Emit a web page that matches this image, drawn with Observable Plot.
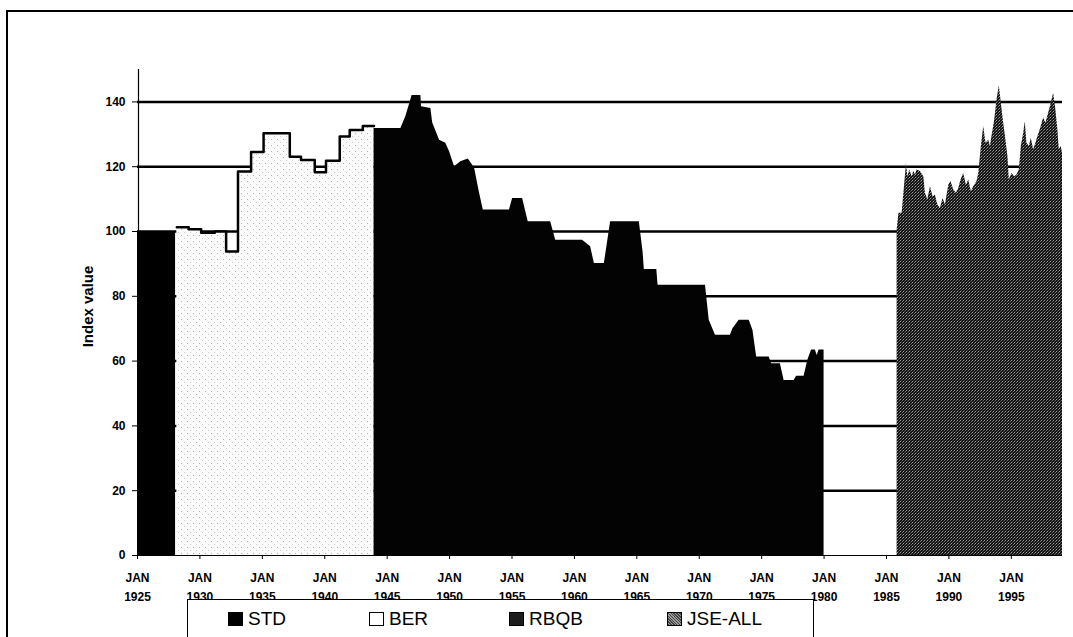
<!DOCTYPE html>
<html>
<head>
<meta charset="utf-8">
<script src="https://cdn.jsdelivr.net/npm/d3@7"></script>
<script src="https://cdn.jsdelivr.net/npm/@observablehq/plot@0.6"></script>
<style>
  html, body { margin: 0; padding: 0; background: #fff; overflow: hidden; }
  #wrap { position: relative; width: 1073px; height: 637px; overflow: hidden; background: #fff; font-family: "Liberation Sans", Arial, sans-serif; }
  #frame { position: absolute; left: 6px; top: 10px; width: 1100px; height: 700px; border-left: 2px solid #000; border-top: 2px solid #000; }
  #chart { position: absolute; left: 0; top: 0; }
  #legend { position: absolute; left: 187px; top: 599px; width: 625px; height: 60px; border: 1px solid #000; background: #fff; }
  .item { position: absolute; top: 9px; font-size: 19px; line-height: 20px; display: flex; align-items: center; }
  .sw { width: 15px; height: 14px; margin-right: 5px; box-sizing: border-box; }
</style>
</head>
<body>
<div id="wrap">
  <div id="frame"></div>
  <div id="chart"></div>
  <div id="legend">
    <div class="item" style="left:40px"><div class="sw" style="background:#000"></div>STD</div>
    <div class="item" style="left:181px"><div class="sw" style="background:#fff;border:1.5px solid #000"></div>BER</div>
    <div class="item" style="left:321px"><div class="sw" style="background:#1c1c1c;border:1px solid #000"></div>RBQB</div>
    <div class="item" style="left:479px"><div class="sw" style="background:repeating-linear-gradient(45deg,#444 0 1px,#999 1px 2px);border:1px solid #000"></div>JSE-ALL</div>
  </div>
</div>
<script>
// ---- data ----
const xTicks = [1925, 1930, 1935, 1940, 1945, 1950, 1955, 1960, 1965, 1970, 1975, 1980, 1985, 1990, 1995];
const yTicks = [0, 20, 40, 60, 80, 100, 120, 140];
const gridValues = [20, 40, 60, 80, 100, 120, 140];

const stdYears = [1925, 1928.05];
const stdValues = [100, 100];

const berYears = [1928.15, 1929.1, 1930.1, 1931.2, 1932.1, 1933.05, 1934.1, 1935.1, 1937.2, 1938.1, 1939.2, 1940.1, 1941.2, 1942.0, 1943.05, 1943.95];
const berValues = [101.3, 100.7, 99.6, 100, 93.8, 118.5, 124.5, 130.3, 123.1, 122.1, 118.3, 121.8, 129.3, 131.3, 132.6, 132.6];

const rbqbYears = [1943.95, 1946.1, 1946.5, 1947.0, 1947.7, 1947.75, 1948.5, 1948.65, 1949.2, 1949.7, 1950.0, 1950.4, 1950.9, 1951.5, 1952.0, 1952.4, 1952.7, 1954.8, 1955.05, 1955.85, 1956.3, 1958.1, 1958.5, 1960.65, 1961.3, 1961.6, 1962.4, 1962.9, 1965.2, 1965.5, 1965.6, 1966.6, 1966.7, 1970.5, 1970.8, 1971.3, 1972.5, 1972.7, 1973.2, 1974.0, 1974.3, 1974.6, 1975.6, 1975.8, 1976.5, 1976.8, 1977.6, 1977.8, 1978.4, 1978.7, 1979.0, 1979.3, 1979.45, 1979.6, 1980.0];
const rbqbValues = [131.8, 131.8, 135.5, 142, 142, 138.5, 138, 133.5, 128.2, 127.2, 124.6, 120, 121.5, 122.4, 119.6, 111.9, 106.6, 106.6, 110.2, 110.2, 103, 103, 97.3, 97.3, 95.3, 90.1, 90.1, 103, 103, 93.7, 88.3, 88.3, 83.4, 83.4, 72.6, 68, 68, 70, 72.6, 72.6, 69.5, 61.3, 61.3, 59.2, 59.2, 54, 54, 55.3, 55.3, 60.3, 63.4, 63.4, 61.7, 63.4, 63.4];

const jseYears = [1985.85, 1986.0, 1986.25, 1986.44, 1986.6, 1986.71, 1986.87, 1987.05, 1987.19, 1987.32, 1987.45, 1987.72, 1987.99, 1988.12, 1988.31, 1988.52, 1988.73, 1988.92, 1989.11, 1989.32, 1989.53, 1989.72, 1989.99, 1990.17, 1990.39, 1990.6, 1990.79, 1990.97, 1991.19, 1991.4, 1991.59, 1991.8, 1991.99, 1992.25, 1992.39, 1992.6, 1992.79, 1992.97, 1993.19, 1993.32, 1993.45, 1993.67, 1993.85, 1994.04, 1994.2, 1994.39, 1994.57, 1994.73, 1994.84, 1995.05, 1995.27, 1995.45, 1995.64, 1995.8, 1995.99, 1996.12, 1996.25, 1996.44, 1996.6, 1996.79, 1996.97, 1997.13, 1997.32, 1997.59, 1997.77, 1997.99, 1998.2, 1998.39, 1998.57, 1998.73, 1998.84, 1999.0, 1999.1];
const jseValues = [100.4, 105.6, 105.6, 113.8, 121, 116.9, 119, 116.9, 118.5, 117.4, 119, 118.5, 116.9, 111.8, 109.7, 113.8, 110.7, 111.2, 108.2, 107.1, 110.2, 108.2, 114.3, 115.4, 112.8, 111.8, 113.3, 115.9, 117.9, 114.3, 115.9, 112.3, 113.8, 115.4, 117.9, 126.2, 132.4, 127.2, 128.2, 126.2, 129.3, 134.4, 140.6, 144.9, 139.6, 133.4, 128.2, 123.1, 115.9, 117.9, 116.9, 117.4, 119, 126.2, 130.3, 133.9, 127.2, 126.2, 128.7, 125.2, 127.2, 129.3, 131.4, 135, 133.4, 136.5, 139.6, 142.7, 137.5, 131.4, 125.2, 126.2, 124.1];

const toRows = (xs, ys) => xs.map((x, i) => ({ x, y: ys[i] }));
const std = toRows(stdYears, stdValues);
const ber = toRows(berYears, berValues);
const rbqb = toRows(rbqbYears, rbqbValues);
const jse = toRows(jseYears, jseValues);

const plot = Plot.plot({
  width: 1073,
  height: 600,
  marginLeft: 137,
  marginRight: 11,
  marginTop: 69,
  marginBottom: 45,
  style: { fontFamily: "'Liberation Sans', Arial, sans-serif", fontSize: "12px", color: "#000", background: "transparent", overflow: "visible" },
  x: { domain: [1925, 1999.1] },
  y: { domain: [0, 150] },
  marks: [
    Plot.ruleY(gridValues, { stroke: "#000", strokeWidth: 2.5 }),
    Plot.areaY(std, { x: "x", y: "y", fill: "#000", curve: "step-after" }),
    Plot.areaY(ber, { x: "x", y: "y", fill: "url(#berPat)", curve: "step-after" }),
    Plot.lineY(ber, { x: "x", y: "y", stroke: "#000", strokeWidth: 2.5, curve: "step-after" }),
    Plot.areaY(rbqb, { x: "x", y: "y", fill: "#030303" }),
    Plot.areaY(jse, { x: "x", y: "y", fill: "url(#jsePat)" }),
    Plot.ruleY([0], { stroke: "#000", strokeWidth: 1.2 }),
    Plot.ruleX([1925], { y1: 0, y2: 150, stroke: "#000", strokeWidth: 1.2, dx: 1 }),
    Plot.axisY({ ticks: yTicks, tickSize: 5, tickPadding: 7, label: null, fontSize: 12, fontWeight: "bold", tickFormat: d => String(d) }),
    Plot.axisX({ ticks: xTicks, tickSize: 4, tickPadding: 14, label: null, fontSize: 12, fontWeight: "bold", tickFormat: () => "JAN" }),
    Plot.axisX({ ticks: xTicks, tickSize: 0, tickPadding: 37, label: null, fontSize: 12, fontWeight: "bold", tickFormat: d => String(d) }),
    Plot.text(["Index value"], { frameAnchor: "left", textAnchor: "middle", dx: -49, dy: -6, rotate: -90, fontWeight: "bold", fontSize: 15, fill: "#000" })
  ]
});

// patterns for the stippled fills
const svg = d3.select(plot.tagName.toLowerCase() === "svg" ? plot : plot.querySelector("svg"));
const defs = svg.insert("defs", ":first-child");
const bp = defs.append("pattern").attr("id", "berPat").attr("patternUnits", "userSpaceOnUse").attr("width", 6).attr("height", 6);
bp.append("rect").attr("width", 6).attr("height", 6).attr("fill", "#fbfbfb");
bp.append("rect").attr("x", 1).attr("y", 1).attr("width", 1).attr("height", 1).attr("fill", "#b0b0b0");
bp.append("rect").attr("x", 4).attr("y", 4).attr("width", 1).attr("height", 1).attr("fill", "#c8c8c8");
const jp = defs.append("pattern").attr("id", "jsePat").attr("patternUnits", "userSpaceOnUse").attr("width", 3).attr("height", 3);
jp.append("rect").attr("width", 3).attr("height", 3).attr("fill", "#141414");
jp.append("rect").attr("x", 0).attr("y", 0).attr("width", 1).attr("height", 1).attr("fill", "#a0a0a0");
jp.append("rect").attr("x", 2).attr("y", 1).attr("width", 1).attr("height", 1).attr("fill", "#707070");
jp.append("rect").attr("x", 1).attr("y", 2).attr("width", 1).attr("height", 1).attr("fill", "#4a4a4a");

document.getElementById("chart").appendChild(plot);
</script>
</body>
</html>
